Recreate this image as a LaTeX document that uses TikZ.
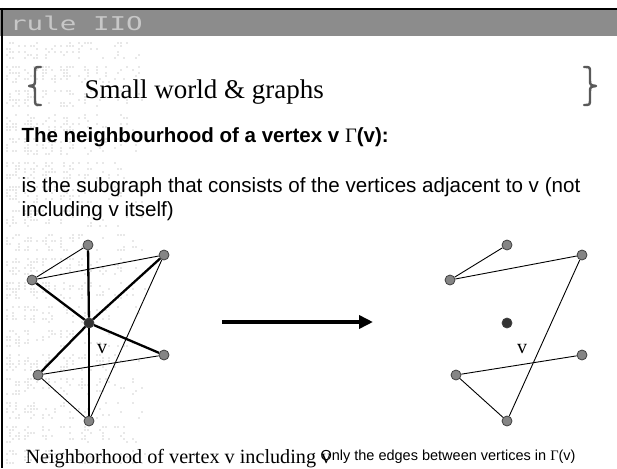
\documentclass[tikz,border=0pt]{standalone}
\usepackage{fontspec}
\setmainfont{Liberation Serif}
\setsansfont{Liberation Sans}
\newfontfamily\gammafont{Liberation Serif}
\newfontfamily\logofont{DejaVu Sans Mono}
\usetikzlibrary{arrows.meta}

\begin{document}
\begin{tikzpicture}[x=1pt,y=-1pt,
        vtx/.style={circle,draw=black!75,fill=black!48,line width=0.8pt,minimum size=10pt,inner sep=0pt},
        hub/.style={vtx,fill=black!80},
        nbedge/.style={line width=0.9pt},
        hubedge/.style={line width=2.3pt},
        brace/.style={line width=2.4pt,draw=black!65,line cap=round,line join=round},
        bigarrow/.style={line width=4pt,-{Triangle[length=14pt,width=13pt]}},
        dotcol/.style={fill=black!9}]

        \useasboundingbox (0,0) rectangle (617,468);

        %pixel pattern
        \pgfmathsetseed{11}
        \foreach \i in {0,...,46}
            \foreach \j in {0,...,140}{
                \pgfmathtruncatemacro{\keep}{(rnd<0.45*(1-\i/55))*(mod(\j,8)<6)*(mod(\i,6)<5)}
                \ifnum\keep=1
                    \fill[dotcol] (6+\i*3,42+\j*3) rectangle ++(2,2);
                \fi
            }

        %header
        \fill[black!45] (0,8) rectangle (617,36);
        \draw[line width=2.5pt] (0,9) -- (617,9);
        \draw[line width=2.5pt] (2,8) -- (2,468);
        \node[anchor=west,xscale=1.45,text=black!22,font=\logofont\fontsize{19}{19}\selectfont] (logo) at (5,23) {rule IIO};

        %braces
        \draw[brace] (41,67) .. controls (35,67) .. (35,72) -- (35,80)
            .. controls (35,85) .. (29,86) .. controls (35,87) .. (35,92)
            -- (35,99) .. controls (35,105) .. (41,105);
        \draw[brace] (584,67) .. controls (590,67) .. (590,72) -- (590,80)
            .. controls (590,85) .. (596,86) .. controls (590,87) .. (590,92)
            -- (590,99) .. controls (590,105) .. (584,105);

        %texts
        \node[anchor=base west,font=\fontsize{27}{31}\selectfont] (title) at (81,99) {Small world \& graphs};
        \node[anchor=base west,font=\sffamily\bfseries\fontsize{20.5}{24}\selectfont] (head) at (18,142)
            {The neighbourhood of a vertex v {\gammafont\mdseries Γ}(v):};
        \node[anchor=base west,font=\sffamily\fontsize{20.6}{25}\selectfont] (body1) at (18,192)
            {is the subgraph that consists of the vertices adjacent to v (not};
        \node[anchor=base west,font=\sffamily\fontsize{20.6}{25}\selectfont] (body2) at (18,216)
            {including v itself)};

        %left graph
        \node[vtx] (lt) at (88,245) {};
        \node[vtx] (lur) at (164,255) {};
        \node[vtx] (lul) at (32,280) {};
        \node[hub] (lc) at (89,323) {};
        \node[vtx] (lr) at (164,355) {};
        \node[vtx] (lll) at (38,375) {};
        \node[vtx] (lb) at (89,421) {};
        \node[font=\fontsize{20}{20}\selectfont] (lv) at (102,349) {v};

        \path[nbedge]
            (lt) edge (lul)
            (lul) edge (lur)
            (lur) edge (lb)
            (lll) edge (lr)
            (lll) edge (lb);
        \path[hubedge]
            (lc) edge (lt)
            (lc) edge (lul)
            (lc) edge (lur)
            (lc) edge (lr)
            (lc) edge (lll)
            (lc) edge (lb);

        %arrow
        \coordinate (arrS) at (222,322);
        \coordinate (arrE) at (373,322);
        \draw[bigarrow] (arrS) -- (arrE);

        %right graph
        \node[vtx] (rt) at (507,245) {};
        \node[vtx] (rur) at (582,255) {};
        \node[vtx] (rul) at (450,280) {};
        \node[hub] (rc) at (507,323) {};
        \node[vtx] (rr) at (582,355) {};
        \node[vtx] (rll) at (456,375) {};
        \node[vtx] (rb) at (507,421) {};
        \node[font=\fontsize{20}{20}\selectfont] (rv) at (522,349) {v};

        \path[nbedge]
            (rt) edge (rul)
            (rul) edge (rur)
            (rur) edge (rb)
            (rll) edge (rr)
            (rll) edge (rb);

        %captions
        \node[anchor=base west,font=\fontsize{20.2}{24}\selectfont] (capL) at (22,463)
            {Neighborhood of vertex v including v};
        \node[anchor=base west,font=\sffamily\fontsize{14.5}{17}\selectfont] (capR) at (317,460)
            {Only the edges between vertices in {\gammafont Γ}(v)};

\end{tikzpicture}
\end{document}
